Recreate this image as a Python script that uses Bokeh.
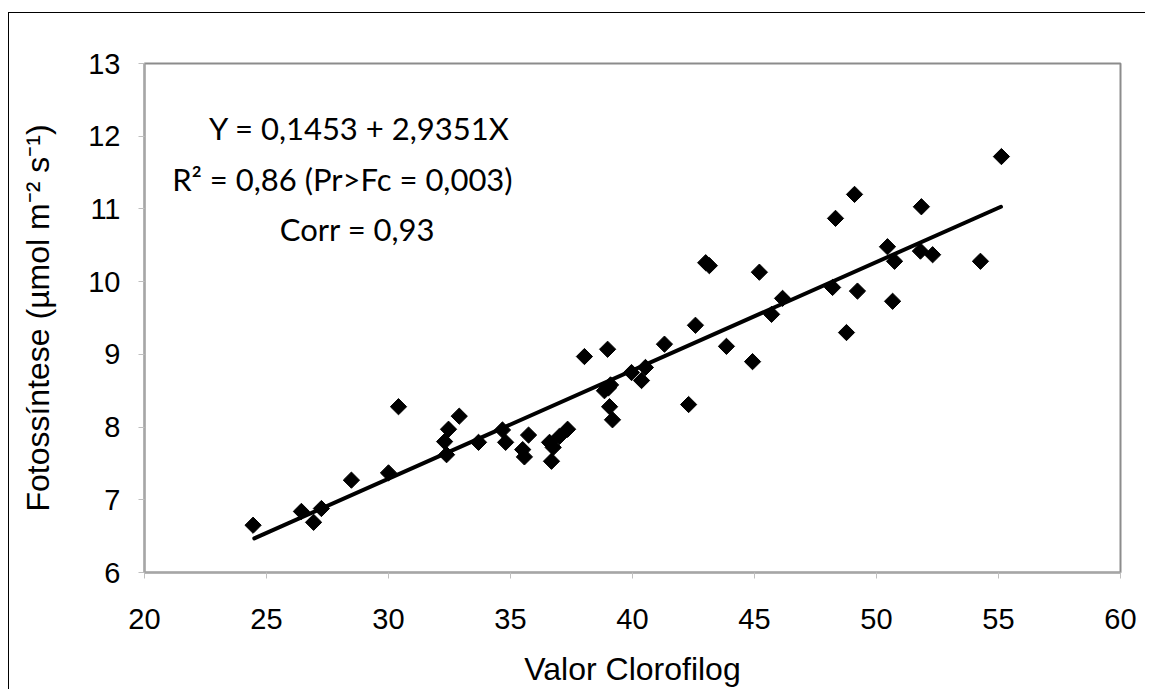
import numpy as np
from bokeh.plotting import figure
from bokeh.models import Range1d, Label, FixedTicker
from bokeh.embed import file_html
from bokeh.resources import INLINE

# ---- data ----
clorofilog = [24.45, 26.43, 26.93, 27.25, 28.48, 30.0, 30.41, 32.38, 32.3, 32.46,
              32.9, 33.69, 34.67, 34.8, 35.74, 35.5, 35.57, 36.6, 36.68, 36.75,
              37.0, 37.34, 38.03, 38.98, 39.02, 38.85, 39.1, 39.06, 39.18, 39.96,
              40.53, 40.37, 41.31, 42.3, 42.58, 43.0, 43.15, 43.85, 44.92, 45.2,
              45.7, 46.15, 48.2, 48.32, 48.77, 49.1, 49.22, 50.45, 50.66, 50.74,
              51.8, 51.84, 52.3, 54.26, 55.12]
fotossintese = [6.65, 6.84, 6.69, 6.88, 7.27, 7.37, 8.28, 7.62, 7.80, 7.97,
                8.15, 7.79, 7.96, 7.79, 7.89, 7.69, 7.59, 7.79, 7.53, 7.72,
                7.87, 7.97, 8.97, 9.07, 8.54, 8.50, 8.58, 8.28, 8.10, 8.75,
                8.82, 8.64, 9.14, 8.31, 9.40, 10.26, 10.22, 9.11, 8.90, 10.13,
                9.55, 9.77, 9.92, 10.87, 9.30, 11.20, 9.87, 10.48, 9.73, 10.28,
                10.42, 11.03, 10.37, 10.28, 11.72]
fit_x = [24.5, 55.1]
fit_y = [6.47, 11.03]
x_ticks = [20, 25, 30, 35, 40, 45, 50, 55, 60]
y_ticks = [6, 7, 8, 9, 10, 11, 12, 13]
x_title = "Valor Clorofilog"
y_title = "Fotoss\u00edntese (\u00b5mol m\u207b\u00b2 s\u207b\u00b9)"
eq_lines = ["Y = 0,1453 + 2,9351X", "R\u00b2 = 0,86 (Pr>Fc = 0,003)", "Corr = 0,93"]

p = figure(frame_width=976, frame_height=509,
           x_range=Range1d(20, 60), y_range=Range1d(6, 13),
           min_border_left=135, min_border_top=50, min_border_right=25,
           min_border_bottom=108,
           output_backend="svg", toolbar_location=None)
p.styles = {"border-top": "1.5px solid #000", "border-left": "1.5px solid #000",
            "margin-top": "12px", "margin-left": "8px"}

p.background_fill_color = "white"
p.border_fill_color = "white"
p.outline_line_color = "#8c8c8c"
p.outline_line_width = 2
p.xgrid.grid_line_color = None
p.ygrid.grid_line_color = None

p.line(fit_x, fit_y, line_width=4, color="black", line_cap="round")
p.scatter(clorofilog, fotossintese, marker="square", size=11.5, angle=np.pi / 4,
          color="black")

for ax in (p.xaxis[0], p.yaxis[0]):
    ax.minor_tick_line_color = None
    ax.major_tick_in = 0
    ax.major_tick_out = 6
    ax.major_tick_line_color = "#bfbfbf"
    ax.axis_line_color = "#a6a6a6"
    ax.axis_line_width = 2
    ax.major_label_text_font = "Liberation Sans"
    ax.major_label_text_font_size = "29px"
    ax.major_label_text_color = "black"
    ax.axis_label_text_font = "Liberation Sans"
    ax.axis_label_text_font_size = "32px"
    ax.axis_label_text_font_style = "normal"
    ax.axis_label_text_color = "black"

p.xaxis.ticker = FixedTicker(ticks=x_ticks)
p.yaxis.ticker = FixedTicker(ticks=y_ticks)
p.xaxis.axis_label = x_title
p.yaxis.axis_label = y_title
p.xaxis.major_label_standoff = 30
p.xaxis.axis_label_standoff = 19
p.yaxis.major_label_standoff = 18
p.yaxis.axis_label_standoff = 29

label_pos = [(28.81, 12.11), (28.11, 11.41), (28.73, 10.72)]
for (lx, ly), txt in zip(label_pos, eq_lines):
    p.add_layout(Label(x=lx, y=ly, text=txt, text_align="center",
                       text_baseline="middle", text_font="Lato",
                       text_font_size="31px", text_color="black"))

open("out.html", "w").write(file_html(p, INLINE))
